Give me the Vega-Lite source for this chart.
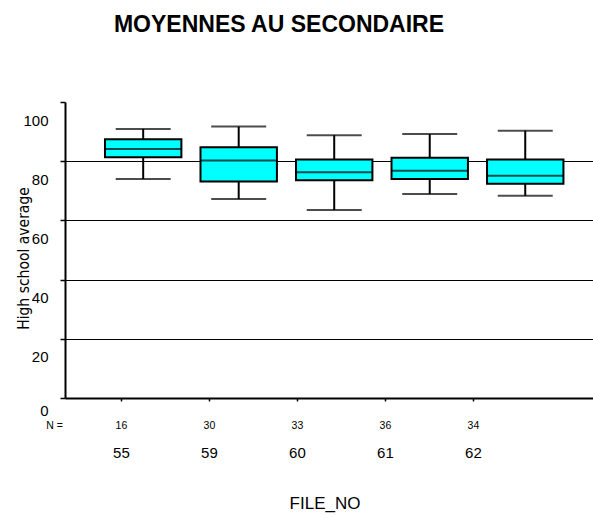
{
  "$schema": "https://vega.github.io/schema/vega-lite/v6.json",
  "width": 528,
  "height": 296,
  "autosize": {"type": "none"},
  "padding": {"left": 65, "top": 102, "right": 0, "bottom": 117},
  "background": "white",
  "config": {"view": {"stroke": null}, "font": "Liberation Sans"},
  "title": {
    "text": "MOYENNES AU SECONDAIRE",
    "font": "Liberation Sans",
    "fontSize": 23,
    "fontWeight": "bold",
    "color": "black",
    "anchor": "middle",
    "frame": "group",
    "dx": -50,
    "offset": 46,
    "baseline": "alphabetic"
  },
  "datasets": {
    "boxes": [
      {"file": "55", "n": 16, "lower": 74.0, "q1": 81.3, "median": 84.1, "q3": 87.4, "upper": 90.9},
      {"file": "59", "n": 30, "lower": 67.2, "q1": 73.1, "median": 80.2, "q3": 84.7, "upper": 91.7},
      {"file": "60", "n": 33, "lower": 63.5, "q1": 73.6, "median": 76.3, "q3": 80.6, "upper": 88.8},
      {"file": "61", "n": 36, "lower": 68.9, "q1": 74.0, "median": 76.8, "q3": 81.2, "upper": 89.2},
      {"file": "62", "n": 34, "lower": 68.3, "q1": 72.4, "median": 75.1, "q3": 80.6, "upper": 90.3}
    ]
  },
  "data": {"name": "boxes"},
  "resolve": {"scale": {"x": "independent"}, "axis": {"x": "independent"}},
  "layer": [
    {
      "encoding": {
        "x": {
          "field": "file",
          "type": "nominal",
          "scale": {"paddingInner": 0.2, "paddingOuter": 0.364, "align": 0.575},
          "axis": null
        }
      },
      "layer": [
        {
          "mark": {"type": "rule", "color": "black", "strokeWidth": 2},
          "encoding": {
            "y": {
              "field": "lower",
              "type": "quantitative",
              "scale": {"domain": [0, 100], "nice": false},
              "axis": {
                "values": [0, 20, 40, 60, 80, 100],
                "title": "High school average",
                "titleFont": "Liberation Sans Narrow, DejaVu Sans Condensed, Liberation Sans",
                "titleFontSize": 15.5,
                "titleFontWeight": "normal",
                "titleColor": "black",
                "titleAngle": -90,
                "titleX": -37,
                "titleY": 156,
                "titleAlign": "center",
                "titleBaseline": "alphabetic",
                "domainColor": "black",
                "domainWidth": 2,
                "tickColor": "black",
                "tickSize": 5,
                "tickWidth": 1.5,
                "labelFontSize": 15,
                "labelColor": "black",
                "labelPadding": 12,
                "labelBaseline": "middle",
                "labelOffset": {"condition": {"test": "datum.value == 0", "value": 12}, "value": 18},
                "grid": true,
                "gridColor": "black",
                "gridWidth": 1.2,
                "gridOpacity": {"condition": {"test": "datum.value == 0 || datum.value == 100", "value": 0}, "value": 1}
              }
            },
            "y2": {"field": "upper"}
          }
        },
        {
          "mark": {"type": "bar", "fill": "#00FFFF", "stroke": "black", "strokeWidth": 2},
          "encoding": {
            "y": {"field": "q1", "type": "quantitative"},
            "y2": {"field": "q3"}
          }
        },
        {
          "mark": {"type": "tick", "color": "black", "thickness": 2, "size": 76},
          "encoding": {"y": {"field": "median", "type": "quantitative"}}
        },
        {
          "mark": {"type": "tick", "color": "black", "thickness": 2, "size": 55},
          "encoding": {"y": {"field": "lower", "type": "quantitative"}}
        },
        {
          "mark": {"type": "tick", "color": "black", "thickness": 2, "size": 55},
          "encoding": {"y": {"field": "upper", "type": "quantitative"}}
        }
      ]
    },
    {
      "mark": {"type": "point", "opacity": 0},
      "encoding": {
        "x": {
          "field": "file",
          "type": "nominal",
          "scale": {"type": "point", "padding": 1.143, "align": 0.318},
          "axis": {
            "orient": "bottom",
            "title": "FILE_NO",
            "titleFontSize": 17,
            "titleFontWeight": "normal",
            "titleColor": "black",
            "titleX": 259.5,
            "titleY": 110,
            "titleAlign": "center",
            "titleBaseline": "alphabetic",
            "domain": true,
            "domainColor": "black",
            "domainWidth": 2,
            "ticks": true,
            "tickSize": 3,
            "tickColor": "black",
            "tickWidth": 1.5,
            "labelFontSize": 15,
            "labelColor": "black",
            "labelPadding": 44,
            "labelAngle": 0,
            "grid": false
          }
        }
      }
    },
    {
      "mark": {"type": "point", "opacity": 0},
      "encoding": {
        "x": {
          "field": "n",
          "type": "nominal",
          "sort": null,
          "scale": {"type": "point", "padding": 1.143, "align": 0.318},
          "axis": {
            "orient": "bottom",
            "title": "N =",
            "titleFontSize": 10.5,
            "titleFontWeight": "normal",
            "titleColor": "black",
            "titleX": -11,
            "titleY": 30,
            "titleAlign": "center",
            "titleBaseline": "alphabetic",
            "domain": false,
            "ticks": false,
            "labelFontSize": 10.5,
            "labelColor": "black",
            "labelPadding": 22,
            "labelAngle": 0,
            "grid": false
          }
        }
      }
    }
  ]
}
